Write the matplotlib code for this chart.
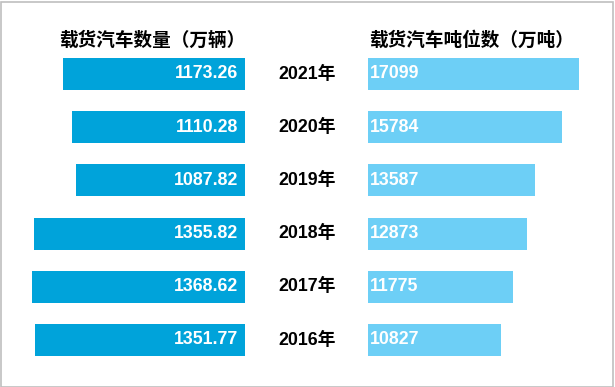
import matplotlib.pyplot as plt

years = ['2016年', '2017年', '2018年', '2019年', '2020年', '2021年']
truck_count = [1351.77, 1368.62, 1355.82, 1087.82, 1110.28, 1173.26]
truck_tonnage = [10827, 11775, 12873, 13587, 15784, 17099]
count_labels = ['1351.77', '1368.62', '1355.82', '1087.82', '1110.28', '1173.26']
tonnage_labels = ['10827', '11775', '12873', '13587', '15784', '17099']

W, H = 615, 387
fig = plt.figure(figsize=(W / 100, H / 100), dpi=100)

# frame around the whole picture
fig.patches.append(plt.Rectangle((0.5 / W, 0.5 / H), 1 - 2.5 / W, 1 - 2.5 / H,
                                 transform=fig.transFigure, fill=False,
                                 edgecolor='#bfbfbf', linewidth=1.2))

bottom = (H - 366.6) / H
height = (366.6 - 47.4) / H
ax_l = fig.add_axes([0, bottom, 245 / W, height])
ax_r = fig.add_axes([368 / W, bottom, (W - 368) / W, height])

ypos = range(len(years))
ax_l.barh(ypos, truck_count, height=0.6, color='#00A3DA')
ax_l.set_xlim(245 / 0.1555, 0)
ax_r.barh(ypos, truck_tonnage, height=0.6, color='#6DCFF6')
ax_r.set_xlim(0, (W - 368) / 0.01232)

num_font = dict(family=['Liberation Sans', 'Noto Sans CJK SC'], weight='bold', size=12.8)
for i in ypos:
    ax_l.annotate(count_labels[i], (0, i), xytext=(-5, 0), textcoords='offset points',
                  ha='right', va='center', color='white', **num_font)
    ax_r.annotate(tonnage_labels[i], (0, i), xytext=(1.5, 0), textcoords='offset points',
                  ha='left', va='center', color='white', **num_font)
    ax_l.annotate(years[i], (0, i), xytext=(62 * 0.72, 0), textcoords='offset points',
                  ha='center', va='center', color='black', annotation_clip=False, **num_font)

for ax in (ax_l, ax_r):
    ax.set_ylim(-0.5, 5.5)
    ax.axis('off')

title_font = dict(family=['Noto Sans CJK SC'], weight='bold', size=13.4)
fig.text(245 / W, 1 - 40 / H, '载货汽车数量（万辆）', ha='right', va='center', **title_font)
fig.text(369 / W, 1 - 40 / H, '载货汽车吨位数（万吨）', ha='left', va='center', **title_font)

fig.savefig('out.png', dpi=100)
